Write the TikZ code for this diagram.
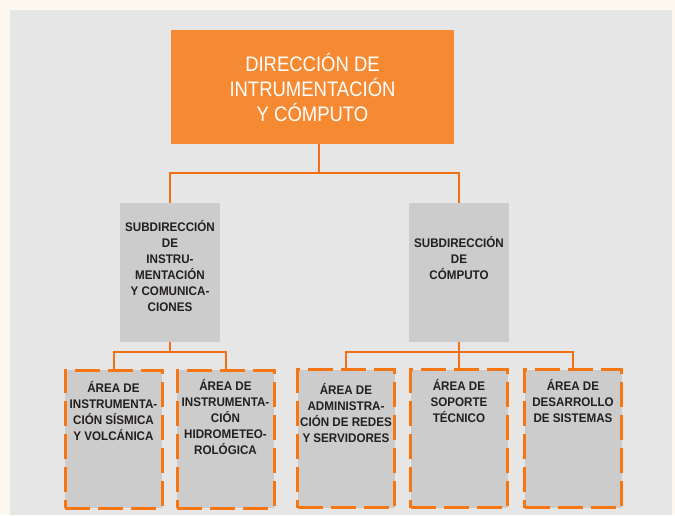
\documentclass[tikz,border=0pt]{standalone}
\usepackage{fontspec}
\newfontfamily\titlefont[FakeStretch=0.88]{Liberation Sans}
\newfontfamily\areafont[FakeStretch=0.93]{Liberation Sans}
\usetikzlibrary{positioning}

\begin{document}
\begin{tikzpicture}[x=1pt,y=-1pt,
  head node/.style={rectangle,fill=headorange,text=white,minimum width=283pt,
    minimum height=114pt,align=center,font=\titlefont\fontsize{21}{25}\selectfont},
  sub node/.style={rectangle,fill=boxgray,minimum width=100pt,minimum height=139pt},
  area node/.style={rectangle,fill=boxgray,draw=dashorange,line width=3pt,
    dash pattern=on 25pt off 8pt,minimum width=97pt,minimum height=138pt},
  box text/.style={align=center,inner sep=0pt,text=textgray,
    font=\areafont\bfseries\fontsize{12.5}{16}\selectfont},
  link/.style={draw=lineorange,line width=2pt}]
  \definecolor{cream}{RGB}{253,248,240}
  \definecolor{panelgray}{RGB}{230,230,230}
  \definecolor{boxgray}{RGB}{204,204,204}
  \definecolor{headorange}{RGB}{246,138,51}
  \definecolor{lineorange}{RGB}{242,112,20}
  \definecolor{dashorange}{RGB}{245,118,18}
  \definecolor{textgray}{RGB}{35,31,32}

  \useasboundingbox (0,0) rectangle (675,515);
  \fill[cream] (0,0) rectangle (675,515);
  \fill[panelgray] (10,10) rectangle (672,515);

  \node[head node] (head) at (312.5,87) {DIRECCIÓN DE\\INTRUMENTACIÓN\\Y CÓMPUTO};

  \node[sub node] (sub1) at (170,272.5) {};
  \node[sub node] (sub2) at (459,272.5) {};
  \node[box text,below=17pt of sub1.north] (sub1 text)
    {SUBDIRECCIÓN\\DE\\INSTRU-\\MENTACIÓN\\Y COMUNICA-\\CIONES};
  \node[box text,below=33pt of sub2.north] (sub2 text)
    {SUBDIRECCIÓN\\DE\\CÓMPUTO};

  \node[area node] (area1) at (113.5,439) {};
  \node[area node] (area2) at (225.5,439) {};
  \node[area node] (area3) at (346,438.5) {};
  \node[area node] (area4) at (459,438.5) {};
  \node[area node] (area5) at (573,438.5) {};
  \node[box text,below=13pt of area1.north] (area1 text)
    {ÁREA DE\\INSTRUMENTA-\\CIÓN SÍSMICA\\Y VOLCÁNICA};
  \node[box text,below=11pt of area2.north] (area2 text)
    {ÁREA DE\\INSTRUMENTA-\\CIÓN\\HIDROMETEO-\\ROLÓGICA};
  \node[box text,below=15pt of area3.north] (area3 text)
    {ÁREA DE\\ADMINISTRA-\\CIÓN DE REDES\\Y SERVIDORES};
  \node[box text,below=11pt of area4.north] (area4 text)
    {ÁREA DE\\SOPORTE\\TÉCNICO};
  \node[box text,below=11pt of area5.north] (area5 text)
    {ÁREA DE\\DESARROLLO\\DE SISTEMAS};

  % connectors
  \coordinate (top fork) at (319,173);
  \coordinate (left fork) at (170,352);
  \coordinate (right fork) at (459,352);
  \path[link] (head.south -| top fork) -- (top fork);
  \path[link] (sub1.north) |- (top fork) -| (sub2.north);
  \path[link] (sub1.south) -- (left fork);
  \path[link] (area1.north) |- (left fork) -| (area2.north);
  \path[link] (sub2.south) -- (area4.north);
  \path[link] (area3.north) |- (right fork) -| (area5.north);
\end{tikzpicture}
\end{document}
